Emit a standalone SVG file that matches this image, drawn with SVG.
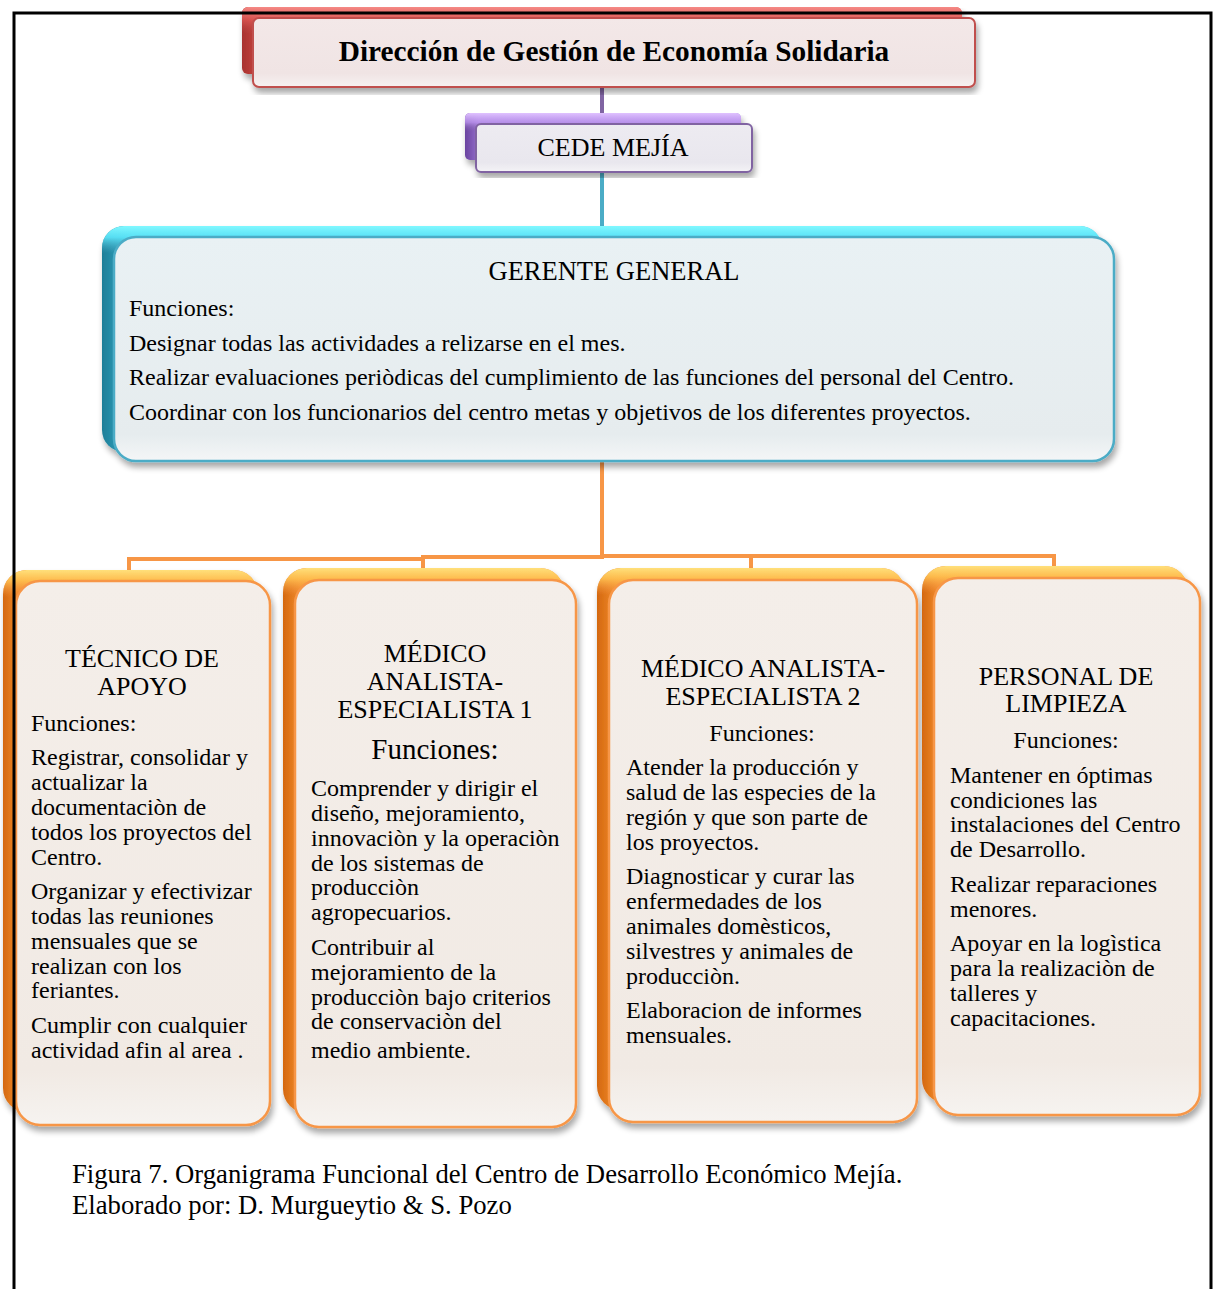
<svg xmlns="http://www.w3.org/2000/svg" width="1216" height="1289" viewBox="0 0 1216 1289">
<defs>
<style>
text{font-family:"Liberation Serif","Times New Roman",serif;fill:#000}
.t24{font-size:24px}
.cap{font-size:26.7px}
.hd{font-size:26px;text-anchor:middle}
.c{text-anchor:middle}
.conn{fill:none;stroke-width:4;stroke-linejoin:miter}
.fo{fill:url(#gFrontO);stroke:#F79646;stroke-width:2.5}
.fc{fill:url(#gFrontC);stroke:#4BACC6;stroke-width:2.5}
.fr{fill:url(#gFrontR);stroke:#C0504D;stroke-width:2}
.fp{fill:url(#gFrontP);stroke:#8064A2;stroke-width:2}
</style>
<filter id="sh" x="-5%" y="-5%" width="112%" height="115%">
<feGaussianBlur in="SourceAlpha" stdDeviation="3"/>
<feOffset dx="2" dy="5" result="b"/>
<feComponentTransfer><feFuncA type="linear" slope="0.35"/></feComponentTransfer>
<feMerge><feMergeNode/><feMergeNode in="SourceGraphic"/></feMerge>
</filter>
<linearGradient id="gBackO" x1="0" y1="0" x2="1" y2="0">
<stop offset="0" stop-color="#D4680F"/><stop offset="0.06" stop-color="#F08A2C"/><stop offset="1" stop-color="#F9A34E"/>
</linearGradient>
<linearGradient id="gTopO" x1="0" y1="0" x2="0" y2="1">
<stop offset="0" stop-color="#FFE07A" stop-opacity="1"/><stop offset="0.02" stop-color="#FFC050" stop-opacity="0.9"/><stop offset="0.05" stop-color="#F79646" stop-opacity="0"/>
</linearGradient>
<linearGradient id="gFrontO" x1="0" y1="0" x2="0" y2="1">
<stop offset="0" stop-color="#F4EEE9"/><stop offset="0.9" stop-color="#F1EAE4"/><stop offset="1" stop-color="#F6F3F0"/>
</linearGradient>
<linearGradient id="gBackC" x1="0" y1="0" x2="1" y2="0">
<stop offset="0" stop-color="#1E7E98"/><stop offset="0.03" stop-color="#38AFCB"/><stop offset="1" stop-color="#4EC8E0"/>
</linearGradient>
<linearGradient id="gTopC" x1="0" y1="0" x2="0" y2="1">
<stop offset="0" stop-color="#80F8FF" stop-opacity="1"/><stop offset="0.05" stop-color="#5CE6FA" stop-opacity="0.9"/><stop offset="0.12" stop-color="#4BACC6" stop-opacity="0"/>
</linearGradient>
<linearGradient id="gFrontC" x1="0" y1="0" x2="0" y2="1">
<stop offset="0" stop-color="#E9F1F4"/><stop offset="0.88" stop-color="#E6ECEE"/><stop offset="1" stop-color="#F4F6F7"/>
</linearGradient>
<linearGradient id="gBackR" x1="0" y1="0" x2="1" y2="0">
<stop offset="0" stop-color="#A8322F"/><stop offset="0.03" stop-color="#D04A46"/><stop offset="1" stop-color="#DD5A56"/>
</linearGradient>
<linearGradient id="gTopR" x1="0" y1="0" x2="0" y2="1">
<stop offset="0" stop-color="#F58A86" stop-opacity="1"/><stop offset="0.2" stop-color="#E8615D" stop-opacity="0.6"/><stop offset="0.4" stop-color="#C0504D" stop-opacity="0"/>
</linearGradient>
<linearGradient id="gFrontR" x1="0" y1="0" x2="0" y2="1">
<stop offset="0" stop-color="#F3E8E8"/><stop offset="0.8" stop-color="#F0E4E4"/><stop offset="1" stop-color="#F6F1F1"/>
</linearGradient>
<linearGradient id="gBackP" x1="0" y1="0" x2="1" y2="0">
<stop offset="0" stop-color="#6A43A0"/><stop offset="0.05" stop-color="#9670CC"/><stop offset="1" stop-color="#A883DD"/>
</linearGradient>
<linearGradient id="gTopP" x1="0" y1="0" x2="0" y2="1">
<stop offset="0" stop-color="#E0C2FF" stop-opacity="1"/><stop offset="0.2" stop-color="#C49DF5" stop-opacity="0.7"/><stop offset="0.4" stop-color="#8064A2" stop-opacity="0"/>
</linearGradient>
<linearGradient id="gFrontP" x1="0" y1="0" x2="0" y2="1">
<stop offset="0" stop-color="#EDEBF1"/><stop offset="0.8" stop-color="#E9E7EE"/><stop offset="1" stop-color="#F4F3F6"/>
</linearGradient>
</defs>

<rect width="1216" height="1289" fill="#FFFFFF"/>

<g id="connectors">
<path class="conn" stroke="#8064A2" stroke-width="3" d="M602 80 V126"/>
<path class="conn" stroke="#4BACC6" stroke-width="3" d="M602 170 V240"/>
<path class="conn" stroke="#F79646" d="M602 458 V557"/>
<path class="conn" stroke="#F79646" d="M129 574 V559 H423"/>
<path class="conn" stroke="#F79646" d="M423 570 V557 H604"/>
<path class="conn" stroke="#F79646" d="M600 556 H1054 V570"/>
<path class="conn" stroke="#F79646" d="M751 570 V556"/>
</g>

<g id="direccion">
<g filter="url(#sh)">
<rect x="242" y="7" width="720" height="67" rx="6" fill="url(#gBackR)"/>
<rect x="242" y="7" width="720" height="67" rx="6" fill="url(#gTopR)"/>
<rect class="fr" x="253" y="18" width="722" height="69" rx="6"/>
</g>
<text x="614" y="61" text-anchor="middle" font-size="29.3" font-weight="bold">Dirección de Gestión de Economía Solidaria</text>
</g>

<g id="cede">
<g filter="url(#sh)">
<rect x="465" y="113" width="276" height="47" rx="5" fill="url(#gBackP)"/>
<rect x="465" y="113" width="276" height="47" rx="5" fill="url(#gTopP)"/>
<rect class="fp" x="476" y="124" width="276" height="48" rx="5"/>
</g>
<text x="613" y="156" class="c" font-size="26">CEDE MEJÍA</text>
</g>

<g id="gerente">
<g filter="url(#sh)">
<rect x="102" y="226" width="1000" height="226" rx="22" fill="url(#gBackC)"/>
<rect x="102" y="226" width="1000" height="226" rx="22" fill="url(#gTopC)"/>
<rect class="fc" x="114" y="237" width="1000" height="224" rx="22"/>
</g>
<text x="614" y="280" class="c" font-size="26.5">GERENTE GENERAL</text>
<text class="t24" x="129"><tspan x="129" y="316">Funciones:</tspan><tspan x="129" y="351">Designar todas las actividades a relizarse en el mes.</tspan><tspan x="129" y="385">Realizar evaluaciones periòdicas del cumplimiento de las funciones del personal del Centro.</tspan><tspan x="129" y="420">Coordinar con los funcionarios del centro metas y objetivos de los diferentes proyectos.</tspan></text>
</g>

<g id="tecnico">
<g filter="url(#sh)">
<rect x="3" y="570" width="255" height="542" rx="24" fill="url(#gBackO)"/>
<rect x="3" y="570" width="255" height="542" rx="24" fill="url(#gTopO)"/>
<rect class="fo" x="16" y="581" width="254" height="544" rx="24"/>
</g>
<text class="hd"><tspan x="142" y="667">TÉCNICO DE</tspan><tspan x="142" y="695">APOYO</tspan></text>
<text class="t24"><tspan x="31" y="731">Funciones:</tspan><tspan x="31" y="765">Registrar, consolidar y</tspan><tspan x="31" y="790">actualizar la</tspan><tspan x="31" y="815">documentaciòn de</tspan><tspan x="31" y="840">todos los proyectos del</tspan><tspan x="31" y="865">Centro.</tspan><tspan x="31" y="899">Organizar y efectivizar</tspan><tspan x="31" y="924">todas las reuniones</tspan><tspan x="31" y="949">mensuales que se</tspan><tspan x="31" y="974">realizan con los</tspan><tspan x="31" y="998">feriantes.</tspan><tspan x="31" y="1033">Cumplir con cualquier</tspan><tspan x="31" y="1058">actividad afin al area .</tspan></text>
</g>

<g id="medico1">
<g filter="url(#sh)">
<rect x="283" y="568" width="281" height="545" rx="24" fill="url(#gBackO)"/>
<rect x="283" y="568" width="281" height="545" rx="24" fill="url(#gTopO)"/>
<rect class="fo" x="295" y="580" width="281" height="547" rx="24"/>
</g>
<text class="hd"><tspan x="435" y="662">MÉDICO</tspan><tspan x="435" y="690">ANALISTA-</tspan><tspan x="435" y="718">ESPECIALISTA 1</tspan></text>
<text x="435" y="759" class="c" font-size="29">Funciones:</text>
<text class="t24"><tspan x="311" y="796">Comprender y dirigir el</tspan><tspan x="311" y="821">diseño, mejoramiento,</tspan><tspan x="311" y="846">innovaciòn y la operaciòn</tspan><tspan x="311" y="871">de los sistemas de</tspan><tspan x="311" y="895">producciòn</tspan><tspan x="311" y="920">agropecuarios.</tspan><tspan x="311" y="955">Contribuir al</tspan><tspan x="311" y="980">mejoramiento de la</tspan><tspan x="311" y="1005">producciòn bajo criterios</tspan><tspan x="311" y="1029">de conservaciòn del</tspan><tspan x="311" y="1058">medio ambiente.</tspan></text>
</g>

<g id="medico2">
<g filter="url(#sh)">
<rect x="597" y="568" width="308" height="542" rx="24" fill="url(#gBackO)"/>
<rect x="597" y="568" width="308" height="542" rx="24" fill="url(#gTopO)"/>
<rect class="fo" x="609" y="580" width="308" height="542" rx="24"/>
</g>
<text class="hd"><tspan x="763" y="677">MÉDICO ANALISTA-</tspan><tspan x="763" y="705">ESPECIALISTA 2</tspan></text>
<text x="762" y="741" class="c t24">Funciones:</text>
<text class="t24"><tspan x="626" y="775">Atender la producción y</tspan><tspan x="626" y="800">salud de las especies de la</tspan><tspan x="626" y="825">región y que son parte de</tspan><tspan x="626" y="850">los proyectos.</tspan><tspan x="626" y="884">Diagnosticar y curar las</tspan><tspan x="626" y="909">enfermedades de los</tspan><tspan x="626" y="934">animales domèsticos,</tspan><tspan x="626" y="959">silvestres y animales de</tspan><tspan x="626" y="984">producciòn.</tspan><tspan x="626" y="1018">Elaboracion de informes</tspan><tspan x="626" y="1043">mensuales.</tspan></text>
</g>

<g id="limpieza">
<g filter="url(#sh)">
<rect x="922" y="566" width="266" height="537" rx="24" fill="url(#gBackO)"/>
<rect x="922" y="566" width="266" height="537" rx="24" fill="url(#gTopO)"/>
<rect class="fo" x="934" y="578" width="266" height="537" rx="24"/>
</g>
<text class="hd"><tspan x="1066" y="685">PERSONAL DE</tspan><tspan x="1066" y="712">LIMPIEZA</tspan></text>
<text x="1066" y="748" class="c t24">Funciones:</text>
<text class="t24"><tspan x="950" y="783">Mantener en óptimas</tspan><tspan x="950" y="808">condiciones las</tspan><tspan x="950" y="832">instalaciones del Centro</tspan><tspan x="950" y="857">de Desarrollo.</tspan><tspan x="950" y="892">Realizar reparaciones</tspan><tspan x="950" y="917">menores.</tspan><tspan x="950" y="951">Apoyar en la logìstica</tspan><tspan x="950" y="976">para la realizaciòn de</tspan><tspan x="950" y="1001">talleres y</tspan><tspan x="950" y="1026">capacitaciones.</tspan></text>
</g>

<g id="caption">
<text class="cap"><tspan x="72" y="1183">Figura 7. Organigrama Funcional del Centro de Desarrollo Económico Mejía.</tspan><tspan x="72" y="1214">Elaborado por: D. Murgueytio &amp; S. Pozo</tspan></text>
</g>

<path id="frame" d="M14 1289 V13 H1211 V1289" fill="none" stroke="#000" stroke-width="3"/>
</svg>
